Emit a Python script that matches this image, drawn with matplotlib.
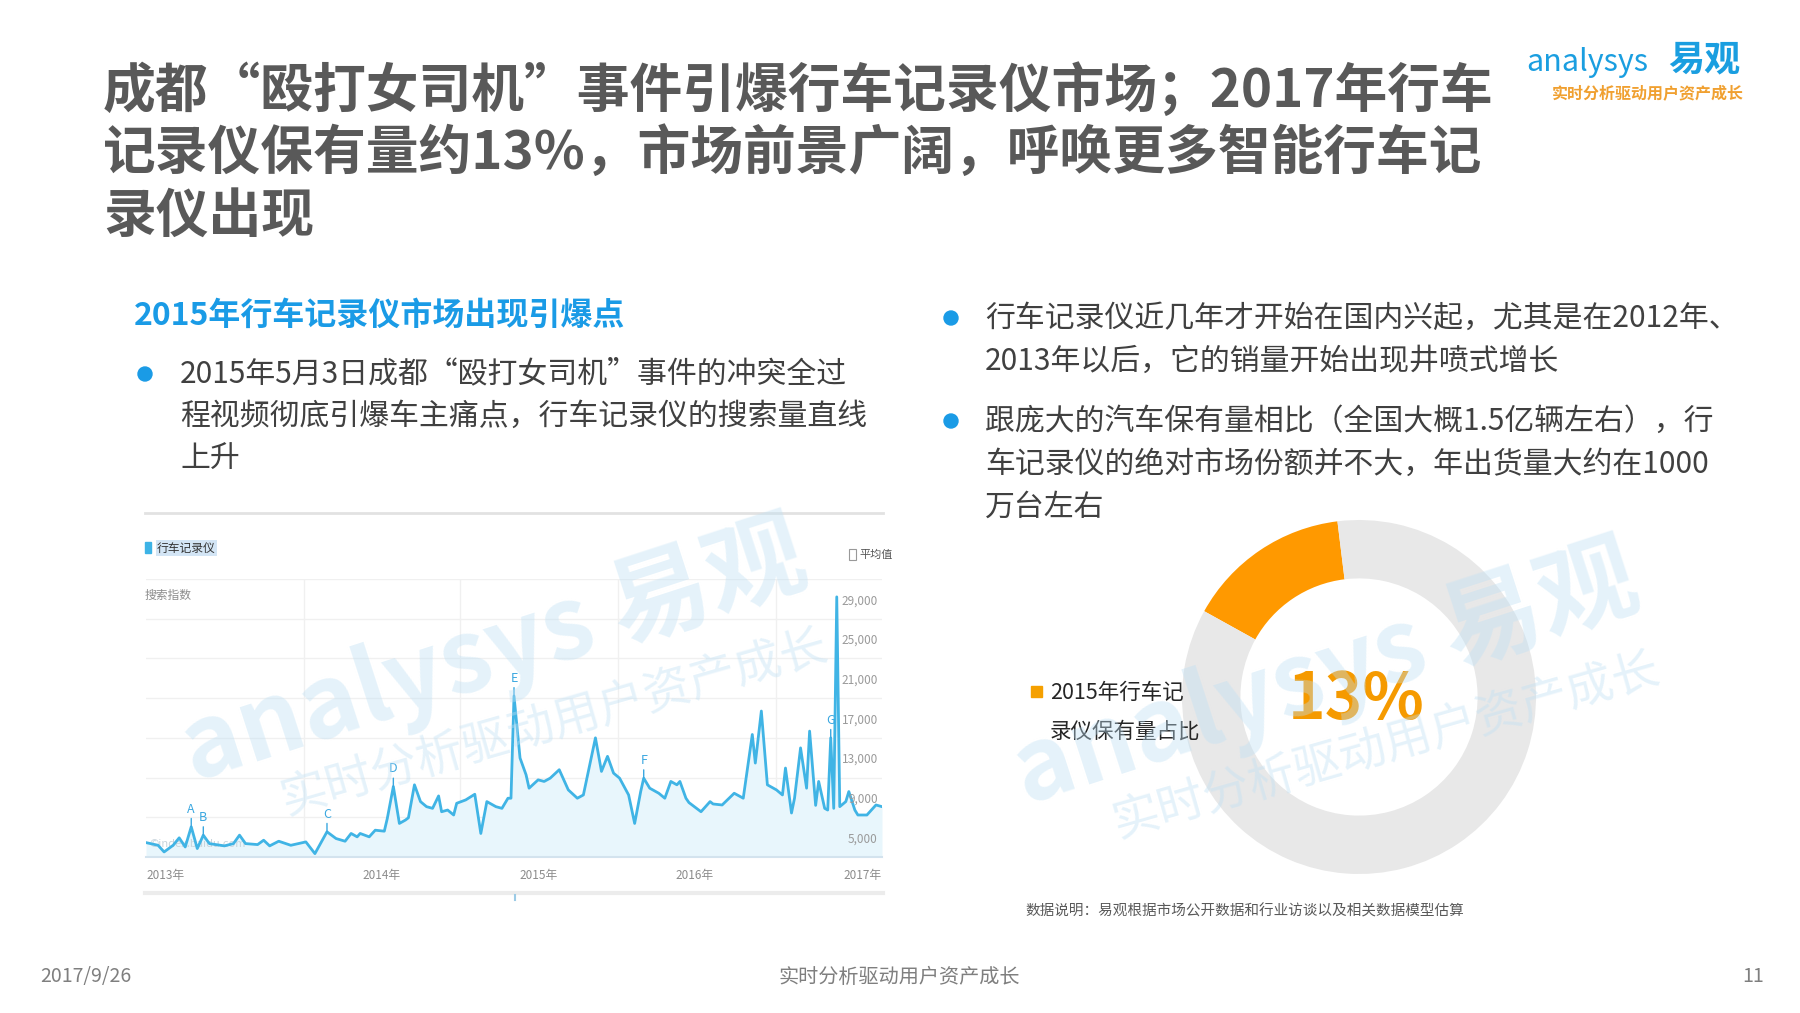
"""
Slide 11: dash-cam market, Baidu search index + ownership donut.
"""

import matplotlib
matplotlib.use("Agg")
import matplotlib.pyplot as plt
from matplotlib.patches import Rectangle, Circle
import matplotlib.transforms as mtransforms


plt.rcParams["font.family"] = ["Noto Sans CJK SC", "DejaVu Sans"]

W, H = 1800, 1013


# ------------------------------------------------------
# Data
# ------------------------------------------------------

# Baidu search index, 行车记录仪, weeks counted from the left edge
weeks = [
    0, 4, 6, 9, 11, 13, 15, 17, 19, 21,
    26, 29, 31, 33, 37, 39, 41, 44, 48, 53,
    56, 60, 63, 66, 68, 70, 71, 74, 76, 79,
    80, 82, 84, 86, 87, 89, 91, 93, 95, 97,
    98, 100, 102, 103, 106, 109, 111, 113, 116, 118,
    120, 121, 122, 124, 126, 127, 130, 132, 134, 137,
    140, 143, 145, 149, 151, 153, 155, 157, 160, 162,
    164, 165, 167, 170, 172, 174, 176, 177, 179, 180,
    184, 187, 188, 191, 195, 198, 201, 202, 204, 206,
    209, 211, 212, 214, 215, 217, 219, 220, 222, 223,
    225, 226, 227, 228, 229, 230, 232, 233, 235, 236,
    239, 242, 244,
]

search_index = [
    6450, 6180, 5510, 6180, 6930, 6010, 8040, 5850, 7200, 6350,
    6120, 6350, 7200, 6350, 6250, 6690, 6120, 6590, 6180, 6520,
    5340, 7540, 6860, 6590, 7370, 7030, 7370, 7030, 7700, 7600,
    8890, 12100, 8380, 8720, 8950, 12270, 10580, 10070, 9900, 11150,
    9560, 9730, 9230, 10410, 10750, 11320, 7370, 10580, 10070, 9900,
    10920, 10920, 21220, 14970, 13280, 11930, 12770, 12610, 12940, 13790,
    11760, 10920, 11250, 17000, 13620, 15140, 13450, 12940, 11250, 8380,
    11590, 12940, 11930, 11420, 10920, 12610, 12270, 12610, 10920, 10480,
    9560, 10580, 10340, 10240, 11420, 10920, 17340, 14460, 19700, 12270,
    11760, 11250, 13960, 9430, 10920, 15990, 11930, 17680, 10200, 12610,
    9900, 9730, 17000, 9900, 31200, 10070, 10580, 11590, 9730, 9230,
    9230, 10240, 10070,
]

event_letters = ["A", "B", "C", "D", "E", "F", "G"]
event_weeks = [15, 19, 60, 82, 122, 165, 227]

y_ticks = [5000, 9000, 13000, 17000, 21000, 25000, 29000]
y_tick_labels = ["5,000", "9,000", "13,000", "17,000", "21,000", "25,000", "29,000"]

year_labels = ["2013年", "2014年", "2015年", "2016年", "2017年"]
year_label_weeks = [0, 78, 130, 182, 244]
year_grid_weeks = [52.5, 104, 156.6, 209]

donut_labels = ["2015年行车记录仪保有量占比", "其他"]
donut_share = [15, 85]
donut_text = "13%"


# ------------------------------------------------------
# Colours
# ------------------------------------------------------

TITLE_GRAY = "#595959"
BODY = "#404040"
BLUE = "#1a9be6"
LINE_BLUE = "#40b4e5"
FILL_BLUE = "#e8f6fc"
ORANGE = "#ff9900"
RING_GRAY = "#e8e8e8"
WATERMARK = "#bfe0f4"


def fx(px):
    return px / W


def fy(py):
    return 1 - py / H


def pixel_layer(z):

    layer = fig.add_axes([0, 0, 1, 1], zorder=z)
    layer.set_xlim(0, W)
    layer.set_ylim(H, 0)
    layer.axis("off")
    layer.patch.set_alpha(0)

    return layer


fig = plt.figure(figsize=(18, 10.13), dpi=100)
fig.patch.set_facecolor("white")

# pixel canvas for slide text
canvas = pixel_layer(0)


# ------------------------------------------------------
# Title and logo
# ------------------------------------------------------

title_lines = [
    "成都“殴打女司机”事件引爆行车记录仪市场；2017年行车",
    "记录仪保有量约13%，市场前景广阔，呼唤更多智能行车记",
    "录仪出现",
]

for i, line in enumerate(title_lines):
    canvas.text(
        103, 91 + i * 62.5, line,
        fontsize=38, fontweight="bold", color=TITLE_GRAY,
        ha="left", va="center"
    )

canvas.text(1526, 62, "analysys", fontsize=22, color="#1a9ee0",
            style="italic", ha="left", va="center")
canvas.text(1668, 60, "易观", fontsize=26, fontweight="bold",
            color="#1a9ee0", ha="left", va="center")
canvas.text(1648, 93, "实时分析驱动用户资产成长", fontsize=11.5,
            fontweight="bold", color="#f0a030", ha="center", va="center")


# ------------------------------------------------------
# Left column text
# ------------------------------------------------------

canvas.text(134, 316, "2015年行车记录仪市场出现引爆点", fontsize=23,
            fontweight="bold", color=BLUE, ha="left", va="center")

left_lines = [
    "2015年5月3日成都“殴打女司机”事件的冲突全过",
    "程视频彻底引爆车主痛点，行车记录仪的搜索量直线",
    "上升",
]

canvas.add_patch(Circle((145, 374), 7, color=BLUE))
for i, line in enumerate(left_lines):
    canvas.text(180, 374 + i * 42.5, line, fontsize=21.5, color=BODY,
                ha="left", va="center")


# ------------------------------------------------------
# Right column text
# ------------------------------------------------------

right_blocks = [
    (318, [
        "行车记录仪近几年才开始在国内兴起，尤其是在2012年、",
        "2013年以后，它的销量开始出现井喷式增长",
    ]),
    (421, [
        "跟庞大的汽车保有量相比（全国大概1.5亿辆左右），行",
        "车记录仪的绝对市场份额并不大，年出货量大约在1000",
        "万台左右",
    ]),
]

for top, lines in right_blocks:
    canvas.add_patch(Circle((951, top), 7, color=BLUE))
    for i, line in enumerate(lines):
        canvas.text(985, top + i * 43, line, fontsize=21.5, color=BODY,
                    ha="left", va="center")


# ------------------------------------------------------
# Search index chart
# ------------------------------------------------------

# frame pieces of the screenshot
canvas.plot([145, 883], [513, 513], color="#e2e2e2", lw=2)
canvas.plot([145, 883], [893, 893], color="#ececec", lw=3)
canvas.plot([515, 515], [895, 900], color="#9ccbe6", lw=1.5)

canvas.add_patch(Rectangle((145, 542), 6, 11, color="#3db3e6"))
canvas.text(157, 548, "行车记录仪", fontsize=8.5, color="#333333",
            ha="left", va="center",
            bbox=dict(boxstyle="square,pad=0.1", fc="#d3e5f5", ec="none"))
canvas.text(145, 595, "搜索指数", fontsize=8.5, color="#8c8c8c",
            ha="left", va="center")
canvas.add_patch(Rectangle((849, 549), 7, 11, fc="white", ec="#999999", lw=0.8))
canvas.text(859, 555, "平均值", fontsize=8, color="#555555",
            ha="left", va="center")

ax = fig.add_axes([fx(146), fy(857), fx(736), 278 / H], zorder=1)
ax.patch.set_alpha(0)

for value in y_ticks[1:] + [33000]:
    ax.axhline(value, color="#f0f0f0", lw=1, zorder=0)

for week in year_grid_weeks:
    ax.axvline(week, color="#f0f0f0", lw=1, zorder=0)

ax.fill_between(weeks, search_index, 5000, color=FILL_BLUE, lw=0, zorder=1)
ax.plot(weeks, search_index, color=LINE_BLUE, lw=2,
        solid_joinstyle="round", zorder=3)

lookup = dict(zip(weeks, search_index))

for letter, week in zip(event_letters, event_weeks):
    ax.annotate(
        letter,
        xy=(week, lookup[week]),
        xytext=(0, 8),
        textcoords="offset points",
        ha="center", va="bottom",
        fontsize=9, color="#3aa7e0",
        arrowprops=dict(arrowstyle="-", color="#3aa7e0", lw=1,
                        shrinkA=0, shrinkB=0),
        zorder=4
    )

ax.set_xlim(0, 244)
ax.set_ylim(5000, 33000)
ax.set_xticks([])
ax.set_yticks([])

for side in ["top", "left", "right"]:
    ax.spines[side].set_visible(False)

ax.spines["bottom"].set_color("#d3e3ee")
ax.spines["bottom"].set_linewidth(1.5)

right_edge = mtransforms.blended_transform_factory(ax.transAxes, ax.transData)

for value, label in zip(y_ticks, y_tick_labels):
    ax.annotate(label, xy=(1, value), xycoords=right_edge,
                xytext=(-3, 13), textcoords="offset points",
                ha="right", va="center", fontsize=8.5, color="#9a9a9a",
                zorder=5)

bottom_edge = mtransforms.blended_transform_factory(ax.transData, ax.transAxes)

for i, (label, week) in enumerate(zip(year_labels, year_label_weeks)):
    align = "center"
    if i == 0:
        align = "left"
    elif i == len(year_labels) - 1:
        align = "right"
    ax.annotate(label, xy=(week, 0), xycoords=bottom_edge,
                xytext=(0, -13), textcoords="offset points",
                ha=align, va="center", fontsize=8.5, color="#8c8c8c",
                annotation_clip=False)

ax.text(0.005, 0.03, "©index.baidu.com", transform=ax.transAxes,
        fontsize=8, color="#c8d4dc", ha="left", va="bottom", zorder=2)


# ------------------------------------------------------
# Donut
# ------------------------------------------------------

R = 177
donut_ax = fig.add_axes([fx(1359 - R), fy(697 + R), 2 * R / W, 2 * R / H],
                        zorder=1)
donut_ax.pie(
    donut_share,
    colors=[ORANGE, RING_GRAY],
    startangle=97,
    counterclock=True,
    radius=1,
    wedgeprops=dict(width=0.33, linewidth=0)
)
donut_ax.set_xlim(-1, 1)
donut_ax.set_ylim(-1, 1)
donut_ax.set_aspect("equal")
donut_ax.axis("off")

# texts that sit over the ring
overlay = pixel_layer(2)

overlay.text(1356, 700, donut_text, fontsize=46, fontweight="bold",
             color="#f59a00", ha="center", va="center")

overlay.add_patch(Rectangle((1031, 686), 11, 11, color="#f5a000"))
overlay.text(1050, 693, "2015年行车记", fontsize=15.5, color="#262626",
             ha="left", va="center")
overlay.text(1050, 732, "录仪保有量占比", fontsize=15.5, color="#262626",
             ha="left", va="center")

overlay.text(1025, 911, "数据说明：易观根据市场公开数据和行业访谈以及相关数据模型估算",
             fontsize=10.5, color="#595959", ha="left", va="center")


# ------------------------------------------------------
# Footer
# ------------------------------------------------------

canvas.text(40, 976, "2017/9/26", fontsize=14, color="#7f7f7f",
            ha="left", va="center")
canvas.text(899, 977, "实时分析驱动用户资产成长", fontsize=14.5,
            color="#7f7f7f", ha="center", va="center")
canvas.text(1764, 976, "11", fontsize=14, color="#7f7f7f",
            ha="right", va="center")


# ------------------------------------------------------
# Watermarks
# ------------------------------------------------------

marks = pixel_layer(10)

for dx, dy in [(0, 0), (832, 23)]:
    marks.text(494 + dx, 654 + dy, "analysys 易观", fontsize=72,
               fontweight="bold", color=WATERMARK, alpha=0.4,
               rotation=18, ha="center", va="center",
               rotation_mode="anchor")
    marks.text(554 + dx, 723 + dy, "实时分析驱动用户资产成长", fontsize=34,
               color=WATERMARK, alpha=0.4, rotation=16,
               ha="center", va="center", rotation_mode="anchor")


fig.savefig("out.png", dpi=100)
